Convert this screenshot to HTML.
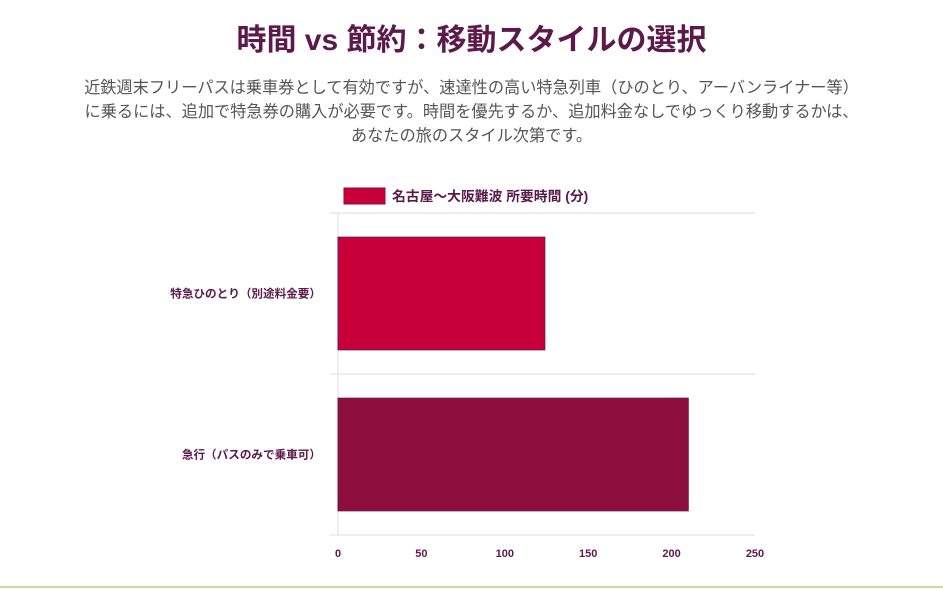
<!DOCTYPE html>
<html><head><meta charset="utf-8"><style>
body{margin:0;width:943px;height:589px;background:#fff;font-family:"Liberation Sans","Noto Sans CJK JP",sans-serif;overflow:hidden;position:relative}
h1{position:absolute;top:15px;left:0;width:943px;text-align:center;margin:0;font-size:30px;font-weight:bold;color:#5b1a4b}
p{position:absolute;top:76px;left:0;width:943px;text-align:center;margin:0;font-size:16.2px;line-height:24px;color:#555;white-space:nowrap}
.foot{position:absolute;left:0;top:586px;width:943px;height:2px;background:#c5e09a}
</style></head><body>
<h1>時間 vs 節約：移動スタイルの選択</h1>
<p>近鉄週末フリーパスは乗車券として有効ですが、速達性の高い特急列車（ひのとり、アーバンライナー等）<br>に乗るには、追加で特急券の購入が必要です。時間を優先するか、追加料金なしでゆっくり移動するかは、<br>あなたの旅のスタイル次第です。</p>
<svg id="chart" width="943" height="589" style="position:absolute;left:0;top:0"></svg>
<div class="foot"></div>
<script>
const categories=["特急ひのとり（別途料金要）","急行（パスのみで乗車可）"];
const values=[124,210];
const ticks=[0,50,100,150,200,250];
const colors=["#c8003a","#8e0e3e"];
const svg=document.getElementById('chart');
const NS="http://www.w3.org/2000/svg";
const x0=338,x1=755,plotTop=213,plotBot=535,xmax=250;
const xs=v=>x0+(x1-x0)*v/xmax;
const band=(plotBot-plotTop)/categories.length;
function mk(t,a){const e=document.createElementNS(NS,t);for(const k in a)e.setAttribute(k,a[k]);svg.appendChild(e);return e;}
let lg=mk('rect',{x:344,y:188,width:41,height:16,fill:"#c8003a",stroke:"#8e0e3e","stroke-width":1});


let lt=mk('text',{x:392,y:201,"font-size":13.8,"font-weight":"bold",fill:"#5b1a4b"});
lt.textContent="名古屋〜大阪難波 所要時間 (分)";


for(let i=0;i<=categories.length;i++){
  const y=plotTop+band*i;
  const g=mk('line',{x1:330,x2:x1,y1:y,y2:y,stroke:"#ddd","stroke-width":1});
  
  
}
const ax=mk('line',{x1:x0,x2:x0,y1:plotTop,y2:plotBot,stroke:"#ddd","stroke-width":1});


categories.forEach((c,i)=>{
  const bt=plotTop+band*i+band*0.15,bh=band*0.7;
  const r=mk('rect',{x:x0,y:bt,width:xs(values[i])-x0,height:bh,fill:colors[i],stroke:"#6a1a50","stroke-width":1});
  
  
  const t=mk('text',{x:321,y:plotTop+band*i+band/2+4,"font-size":11.6,"font-weight":"bold",fill:"#5b1a4b","text-anchor":"end"});
  t.textContent=c;
  
  
});
ticks.forEach(v=>{
  const t=mk('text',{x:xs(v),y:557,"font-size":11,"font-weight":"bold",fill:"#5b1a4b","text-anchor":"middle"});
  t.textContent=v;
  
  
});
</script>
</body></html>
